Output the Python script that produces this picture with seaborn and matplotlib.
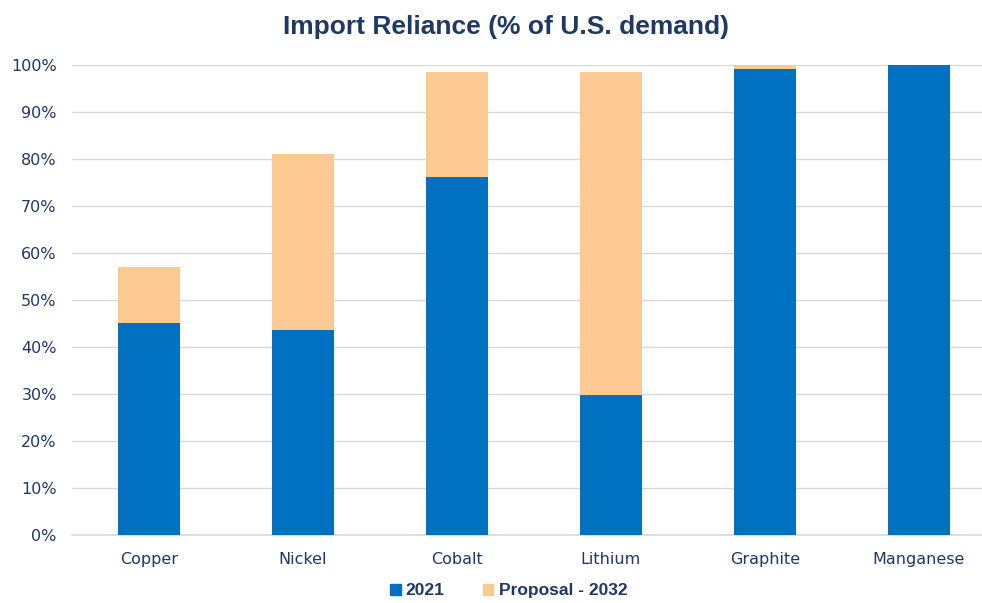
import matplotlib
matplotlib.use('Agg')
import matplotlib.pyplot as plt
import seaborn as sns
import pandas as pd
import numpy as np
from matplotlib.patches import Patch
from matplotlib.ticker import PercentFormatter

# 数据
minerals = ['Copper', 'Nickel', 'Cobalt', 'Lithium', 'Graphite', 'Manganese']
share_2021 = [45.1, 43.6, 76.2, 29.8, 99.1, 100.0]
proposal_2032 = [11.9, 37.5, 22.3, 68.7, 0.9, 0.0]

blue = '#0070C0'
peach = '#FFC994'
navy = '#1F3864'

sns.set_theme(style='white')
plt.rcParams['font.family'] = ['DejaVu Sans']

df = pd.DataFrame({
    'mineral': minerals,
    'y2021': share_2021,
    'total': np.array(share_2021) + np.array(proposal_2032),
})

fig = plt.figure(figsize=(9.82, 6.03), dpi=100)
ax = fig.add_axes([72 / 982, 1 - 535 / 603, 910 / 982, 470 / 603])

# 堆叠：先画总量，再覆盖2021
sns.barplot(data=df, x='mineral', y='total', color=peach, width=0.4,
            saturation=1, linewidth=0, ax=ax, zorder=2)
sns.barplot(data=df, x='mineral', y='y2021', color=blue, width=0.4,
            saturation=1, linewidth=0, ax=ax, zorder=3)

ax.set_ylim(0, 100)
ax.set_xlim(-0.5, 5.41)
ax.set_yticks(np.arange(0, 101, 10))
ax.yaxis.set_major_formatter(PercentFormatter(decimals=0))
ax.grid(axis='y', color='#D9D9D9', linewidth=1, zorder=0)
ax.set_axisbelow(True)
for s in ['top', 'right', 'left']:
    ax.spines[s].set_visible(False)
ax.spines['bottom'].set_color('#D9D9D9')
ax.set_xlabel('')
ax.set_ylabel('')
ax.tick_params(axis='both', length=0, labelsize=11.5, labelcolor=navy)
ax.tick_params(axis='y', pad=11)
ax.tick_params(axis='x', pad=12)

fig.suptitle('Import Reliance (% of U.S. demand)', x=0.515, y=0.975,
             fontsize=19, fontweight='bold', color=navy,
             family=['Liberation Sans', 'DejaVu Sans'])

handles = [Patch(color=blue, label='2021'), Patch(color=peach, label='Proposal - 2032')]
leg = fig.legend(handles=handles, loc='lower center', bbox_to_anchor=(0.518, -0.018),
                 ncol=2, frameon=False, handlelength=0.6, handleheight=0.6,
                 handletextpad=0.3, columnspacing=2.2,
                 prop={'size': 12.5, 'weight': 'bold',
                       'family': ['Liberation Sans', 'DejaVu Sans']})
for t in leg.get_texts():
    t.set_color(navy)

plt.savefig('out.png', dpi=100)
plt.close()
